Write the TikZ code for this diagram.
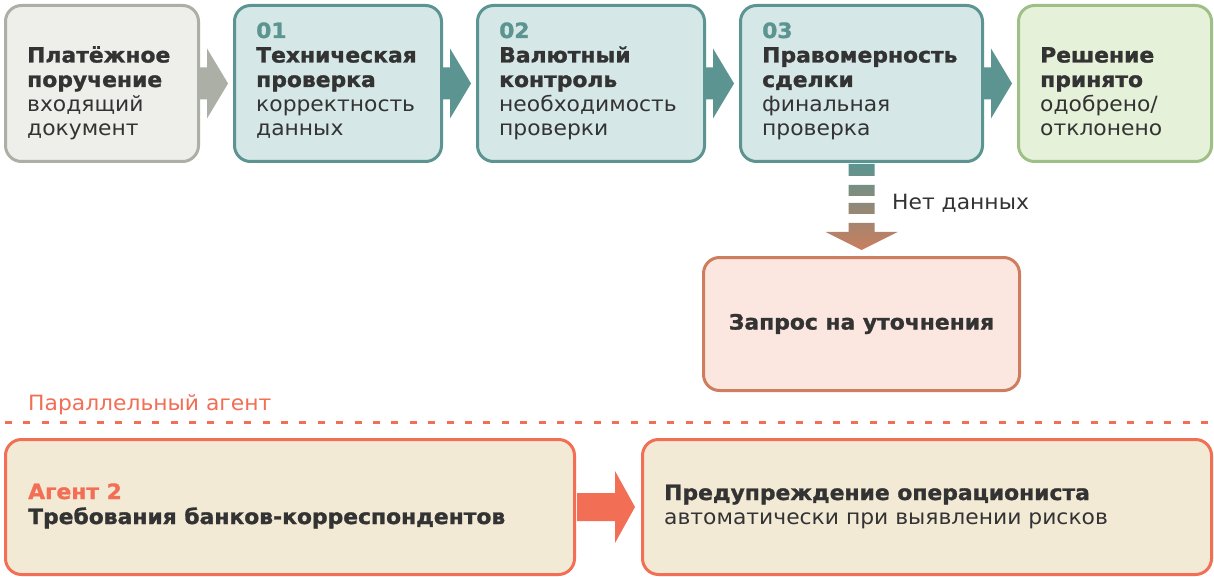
\documentclass[tikz,border=0pt]{standalone}
\usepackage{fontspec}
\setmainfont{DejaVu Sans}[FakeStretch=1.04, BoldFeatures={FakeBold=1.3}]
\usetikzlibrary{calc}
\definecolor{txt}{HTML}{333333}
\definecolor{grayfill}{HTML}{EEEFEB}
\definecolor{graydraw}{HTML}{ABAFA5}
\definecolor{tealfill}{HTML}{D5E7E6}
\definecolor{tealdraw}{HTML}{5B9490}
\definecolor{greenfill}{HTML}{E5F1D9}
\definecolor{greendraw}{HTML}{9EBF86}
\definecolor{reqfill}{HTML}{FBE7E0}
\definecolor{reqdraw}{HTML}{CE7D5E}
\definecolor{agfill}{HTML}{F3EAD6}
\definecolor{agdraw}{HTML}{F26E55}
\definecolor{brownarrow}{HTML}{C97E5E}
\tikzset{
  boxbase/.style={rounded corners=16pt, line width=3pt, inner sep=0pt, anchor=north west},
  graybox/.style={boxbase, draw=graydraw, fill=grayfill},
  tealbox/.style={boxbase, draw=tealdraw, fill=tealfill},
  greenbox/.style={boxbase, draw=greendraw, fill=greenfill},
  reqbox/.style={boxbase, draw=reqdraw, fill=reqfill},
  agbox/.style={boxbase, draw=agdraw, fill=agfill},
  ln/.style={anchor=base west, inner sep=0pt, text=txt, font=\fontsize{21}{24}\selectfont},
  lnb/.style={ln, font=\fontsize{21}{24}\selectfont\bfseries},
  num/.style={lnb, text=tealdraw},
}
\newcommand\blockarrow[3]{%
  \fill[#3] ($(#1.east)+(-1,-16)$) -- ($(#1.east)+(7,-16)$) -- ($(#1.east)+(7,-35)$)
    -- ($(#2.west)+(-5,0)$) -- ($(#1.east)+(7,35)$) -- ($(#1.east)+(7,16)$) -- ($(#1.east)+(-1,16)$) -- cycle;}
\begin{document}
\begin{tikzpicture}[x=1pt,y=-1pt]
\useasboundingbox[fill=white] (0,0) rectangle (1214,577);
% boxes
\node[graybox, minimum width=193pt, minimum height=156pt] (b0) at (4,4) {};
\node[tealbox, minimum width=207pt, minimum height=156pt] (b1) at (233,4) {};
\node[tealbox, minimum width=227pt, minimum height=156pt] (b2) at (476,4) {};
\node[tealbox, minimum width=242pt, minimum height=156pt] (b3) at (739,4) {};
\node[greenbox, minimum width=193pt, minimum height=156pt] (b4) at (1017,4) {};
\node[reqbox, minimum width=316pt, minimum height=133pt] (bz) at (702,256) {};
\node[agbox, minimum width=569pt, minimum height=135pt] (ba) at (4,438) {};
\node[agbox, minimum width=569pt, minimum height=135pt] (bw) at (641,438) {};
% arrows
\blockarrow{b0}{b1}{graydraw}
\blockarrow{b1}{b2}{tealdraw}
\blockarrow{b2}{b3}{tealdraw}
\blockarrow{b3}{b4}{tealdraw}
\fill[agdraw] ($(ba.east)+(1,-14)$) -- ($(ba.east)+(39,-14)$) -- ($(ba.east)+(39,-36)$)
  -- ($(bw.west)+(-6,0)$) -- ($(ba.east)+(39,36)$) -- ($(ba.east)+(39,14)$) -- ($(ba.east)+(1,14)$) -- cycle;
\coordinate (dtop) at ($(b3.south)+(0,1)$);
\coordinate (dtip) at ($(bz.north)+(0,-6)$);
\shade[top color=tealdraw, bottom color=brownarrow]
  ($(dtop)+(-13,0)$) rectangle ($(dtop)+(13,12)$)
  ($(dtop)+(-13,21)$) rectangle ($(dtop)+(13,32)$)
  ($(dtop)+(-13,39)$) rectangle ($(dtop)+(13,50)$)
  ($(dtop)+(-13,59)$) -- ($(dtop)+(13,59)$) -- ($(dtop)+(13,68)$) -- ($(dtop)+(36,68)$)
  -- (dtip) -- ($(dtop)+(-36,68)$) -- ($(dtop)+(-13,68)$) -- cycle;
\node[ln, anchor=base west] (nd) at (892,210) {Нет данных};
% dashed separator
\coordinate (sepl) at (5,422);
\coordinate (sepr) at (1212,422);
\draw[agdraw, line width=3pt, dash pattern=on 7pt off 11.4pt] (sepl) -- (sepr);
\node[ln, text=agdraw] (par) at (28,410) {Параллельный агент};
% texts box0
\node[lnb] (t0a) at (27,62.5) {Платёжное};
\node[lnb] (t0b) at (27,87) {поручение};
\node[ln] (t0c) at (27,111.5) {входящий};
\node[ln] (t0d) at (27,136) {документ};
% box1
\node[num] (t1n) at (256,38) {01};
\node[lnb] (t1a) at (256,62.5) {Техническая};
\node[lnb] (t1b) at (256,87) {проверка};
\node[ln] (t1c) at (256,111.5) {корректность};
\node[ln] (t1d) at (256,136) {данных};
% box2
\node[num] (t2n) at (499,38) {02};
\node[lnb] (t2a) at (499,62.5) {Валютный};
\node[lnb] (t2b) at (499,87) {контроль};
\node[ln] (t2c) at (499,111.5) {необходимость};
\node[ln] (t2d) at (499,136) {проверки};
% box3
\node[num] (t3n) at (762,38) {03};
\node[lnb] (t3a) at (762,62.5) {Правомерность};
\node[lnb] (t3b) at (762,87) {сделки};
\node[ln] (t3c) at (762,111.5) {финальная};
\node[ln] (t3d) at (762,136) {проверка};
% box4
\node[lnb] (t4a) at (1040,62.5) {Решение};
\node[lnb] (t4b) at (1040,87) {принято};
\node[ln] (t4c) at (1040,111.5) {одобрено/};
\node[ln] (t4d) at (1040,136) {отклонено};
% request
\node[lnb, anchor=center] (tz) at (bz.center) {Запрос на уточнения};
% agent
\node[lnb, text=agdraw] (tag1) at (28,499) {Агент 2};
\node[lnb] (tag2) at (28,524) {Требования банков-корреспондентов};
\node[lnb] (tw1) at (664,500) {Предупреждение операциониста};
\node[ln] (tw2) at (664,524) {автоматически при выявлении рисков};
\end{tikzpicture}
\end{document}
